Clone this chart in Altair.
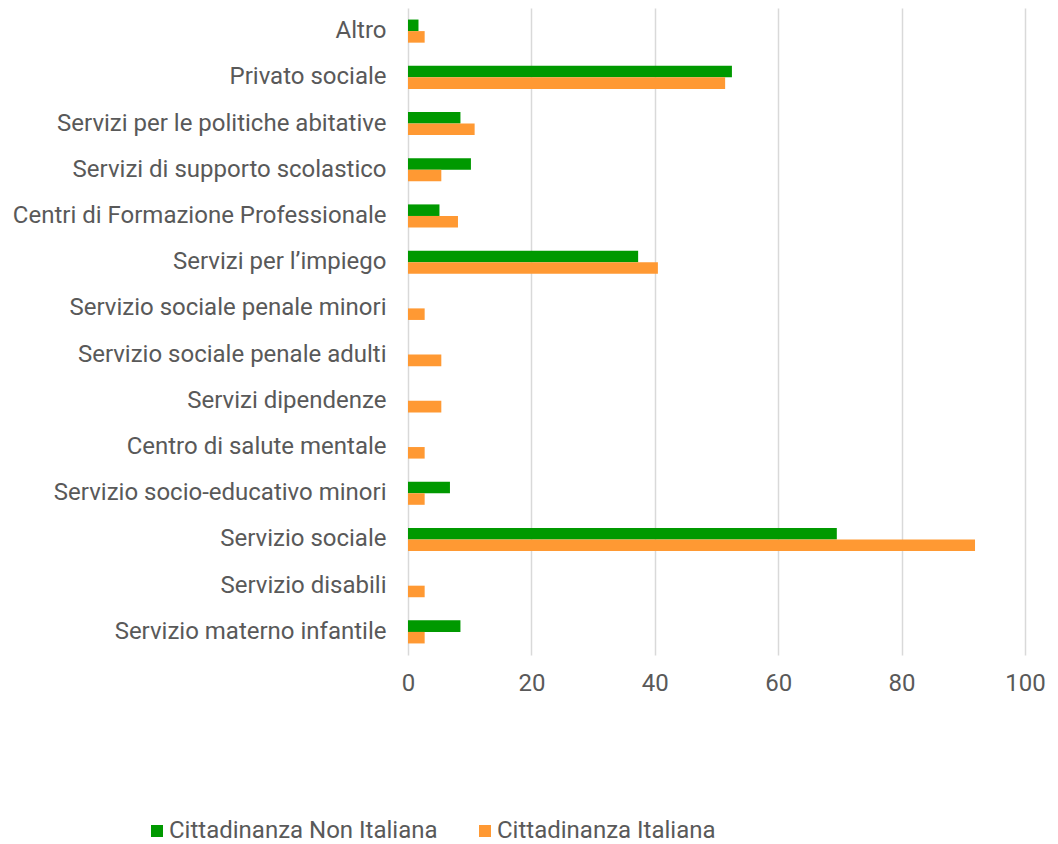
import altair as alt
import pandas as pd

categories = [
    "Altro",
    "Privato sociale",
    "Servizi per le politiche abitative",
    "Servizi di supporto scolastico",
    "Centri di Formazione Professionale",
    "Servizi per l’impiego",
    "Servizio sociale penale minori",
    "Servizio sociale penale adulti",
    "Servizi dipendenze",
    "Centro di salute mentale",
    "Servizio socio-educativo minori",
    "Servizio sociale",
    "Servizio disabili",
    "Servizio materno infantile",
]
non_italiana = [1.7, 52.5, 8.5, 10.2, 5.1, 37.3, 0.0, 0.0, 0.0, 0.0, 6.8, 69.5, 0.0, 8.5]
italiana = [2.7, 51.4, 10.8, 5.4, 8.1, 40.5, 2.7, 5.4, 5.4, 2.7, 2.7, 91.9, 2.7, 2.7]
series = ["Cittadinanza Non Italiana", "Cittadinanza Italiana"]
colors = ["#009900", "#FF9933"]
x_ticks = [0, 20, 40, 60, 80, 100]

rows = []
for c, a, b in zip(categories, non_italiana, italiana):
    rows.append({"cat": c, "serie": series[0], "val": a})
    rows.append({"cat": c, "serie": series[1], "val": b})
df = pd.DataFrame(rows)

FONT = "Roboto"
TXT = "#595959"

chart = (
    alt.Chart(df)
    .mark_bar()
    .encode(
        y=alt.Y(
            "cat:N",
            sort=categories,
            title=None,
            scale=alt.Scale(paddingInner=0.5, paddingOuter=0.25),
            axis=alt.Axis(
                ticks=False,
                domain=False,
                grid=False,
                labelFont=FONT,
                labelFontSize=24,
                labelColor=TXT,
                labelPadding=22,
                labelLimit=500,
            ),
        ),
        yOffset=alt.YOffset("serie:N", sort=series),
        x=alt.X(
            "val:Q",
            title=None,
            scale=alt.Scale(domain=[0, 100], nice=False),
            axis=alt.Axis(
                values=x_ticks,
                ticks=False,
                domain=False,
                grid=True,
                gridColor="#D9D9D9",
                gridWidth=1.5,
                labelFont=FONT,
                labelFontSize=24,
                labelColor=TXT,
                labelPadding=16,
                labelFlush=False,
                labelOverlap=False,
            ),
        ),
        color=alt.Color(
            "serie:N",
            sort=series,
            scale=alt.Scale(domain=series, range=colors),
            legend=alt.Legend(
                title=None,
                orient="none",
                direction="horizontal",
                legendX=-263,
                legendY=811,
                symbolType="square",
                symbolSize=144,
                symbolStrokeWidth=0,
                labelFont=FONT,
                labelFontSize=24,
                labelColor=TXT,
                labelOffset=0,
                columnPadding=35,
                labelLimit=400,
            ),
        ),
    )
    .properties(
        width=617,
        height=647,
        autosize=alt.AutoSizeParams(type="none"),
        padding={"left": 400, "top": 0, "right": 25, "bottom": 188},
    )
    .configure(background="white")
    .configure_view(stroke=None)
)

chart.save("out.html", embed_options={"renderer": "svg", "actions": False})
